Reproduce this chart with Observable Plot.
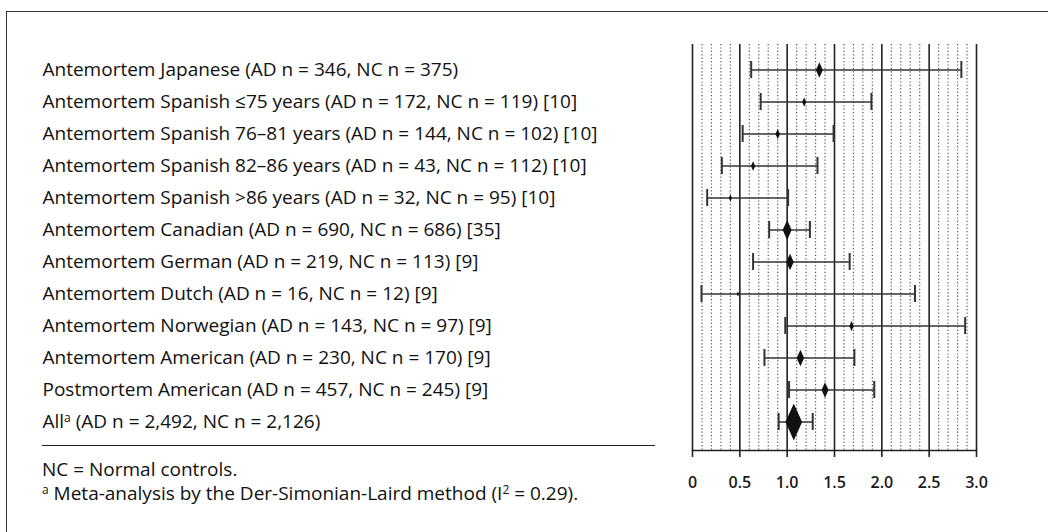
<!DOCTYPE html>
<html>
<head>
<meta charset="utf-8">
<script src="https://cdn.jsdelivr.net/npm/d3@7"></script>
<script src="https://cdn.jsdelivr.net/npm/@observablehq/plot@0.6"></script>
<style>
html, body { margin: 0; padding: 0; background: #fff; overflow: hidden; }
#wrap { position: relative; width: 1048px; height: 532px; font-family: "Open Sans", sans-serif; color: #111; }
#frame { position: absolute; left: 6px; top: 11px; width: 1060px; height: 540px; border: 1.5px solid #333; box-sizing: border-box; }
#chart { position: absolute; left: 0; top: 0; }
#rule { position: absolute; left: 42px; top: 445px; width: 613px; height: 0; border-top: 1.5px solid #222; }
.note { position: absolute; left: 42px; font-size: 19px; line-height: 21px; height: 21px; white-space: nowrap; }
.note sup { font-size: 12px; vertical-align: 6px; line-height: 0; }
</style>
</head>
<body>
<div id="wrap">
  <div id="frame"></div>
  <div id="chart"></div>
  <div id="rule"></div>
  <div class="note" style="top:459px">NC = Normal controls.</div>
  <div class="note" style="top:483px"><sup>a</sup> Meta-analysis by the Der-Simonian-Laird method (I<sup>2</sup> = 0.29).</div>
</div>
<script>
const studies = [
  "Antemortem Japanese (AD n = 346, NC n = 375)",
  "Antemortem Spanish ≤75 years (AD n = 172, NC n = 119) [10]",
  "Antemortem Spanish 76–81 years (AD n = 144, NC n = 102) [10]",
  "Antemortem Spanish 82–86 years (AD n = 43, NC n = 112) [10]",
  "Antemortem Spanish >86 years (AD n = 32, NC n = 95) [10]",
  "Antemortem Canadian (AD n = 690, NC n = 686) [35]",
  "Antemortem German (AD n = 219, NC n = 113) [9]",
  "Antemortem Dutch (AD n = 16, NC n = 12) [9]",
  "Antemortem Norwegian (AD n = 143, NC n = 97) [9]",
  "Antemortem American (AD n = 230, NC n = 170) [9]",
  "Postmortem American (AD n = 457, NC n = 245) [9]",
  "Allᵃ (AD n = 2,492, NC n = 2,126)"
];
const estimate = [1.34, 1.18, 0.90, 0.64, 0.40, 1.00, 1.03, 0.48, 1.68, 1.14, 1.40, 1.07];
const lower    = [0.62, 0.72, 0.53, 0.31, 0.155, 0.81, 0.64, 0.095, 0.98, 0.76, 1.02, 0.91];
const upper    = [2.84, 1.89, 1.49, 1.32, 1.01, 1.24, 1.66, 2.35, 2.88, 1.71, 1.92, 1.27];
const weights  = [42, 25, 27, 26, 19, 54, 45, 14, 27, 45, 42, 100];

const majorTicks = [0, 0.5, 1.0, 1.5, 2.0, 2.5, 3.0];
const tickLabels = ["0", "0.5", "1.0", "1.5", "2.0", "2.5", "3.0"];
const minorTicks = [0.1, 0.2, 0.3, 0.4, 0.6, 0.7, 0.8, 0.9, 1.1, 1.2, 1.3, 1.4, 1.6, 1.7, 1.8, 1.9,
                    2.1, 2.2, 2.3, 2.4, 2.6, 2.7, 2.8, 2.9];

const data = studies.map((s, i) => ({study: s, est: estimate[i], lower: lower[i], upper: upper[i], w: weights[i]}));

const tallDiamond = {
  draw(ctx, size) {
    const r = Math.sqrt(size / Math.PI);
    const w = r * 0.45;
    ctx.moveTo(0, -r); ctx.lineTo(w, 0); ctx.lineTo(0, r); ctx.lineTo(-w, 0); ctx.closePath();
  }
};

const chart = Plot.plot({
  width: 1048, height: 532,
  marginLeft: 692, marginRight: 72, marginTop: 44, marginBottom: 82,
  style: {fontFamily: "'Open Sans', sans-serif", fontSize: "19px", color: "#111", background: "transparent", overflow: "visible"},
  x: {domain: [0, 3]},
  y: {domain: studies, type: "band", range: [60, 430], paddingInner: 0.47, paddingOuter: 0, axis: null},
  r: {type: "linear", domain: [0, 100], range: [0, 18.5]},
  marks: [
    Plot.ruleX(minorTicks, {stroke: "#555", strokeWidth: 1.2, strokeDasharray: "1.2,2.2"}),
    Plot.ruleX(majorTicks, {stroke: "#222", strokeWidth: 1.6}),
    Plot.frame({anchor: "bottom", stroke: "#222", strokeWidth: 1.6}),
    Plot.axisX(majorTicks, {tickSize: 7, tickPadding: 19, stroke: "#222", strokeWidth: 1.6,
      tickFormat: d => tickLabels[majorTicks.indexOf(d)], fontSize: 16, fontWeight: 600, fill: "#1a1a1a", label: null}),
    Plot.ruleY(data, {y: "study", x1: "lower", x2: "upper", stroke: "#333", strokeWidth: 1.6}),
    Plot.tickX(data, {y: "study", x: "lower", stroke: "#333", strokeWidth: 2}),
    Plot.tickX(data, {y: "study", x: "upper", stroke: "#333", strokeWidth: 2}),
    Plot.dot(data, {x: "est", y: "study", r: "w", symbol: tallDiamond, fill: "#111", stroke: "none"}),
    Plot.text(data, {y: "study", text: "study", frameAnchor: "left", textAnchor: "start", dx: -650, fontSize: 19, fill: "#111"})
  ]
});
document.getElementById("chart").appendChild(chart);

// render the superscript "a" in the pooled row label
chart.querySelectorAll("text").forEach(t => {
  if (t.textContent.includes("ᵃ")) {
    const [before, after] = t.textContent.split("ᵃ");
    t.textContent = "";
    const ns = "http://www.w3.org/2000/svg";
    const a = document.createElementNS(ns, "tspan"); a.textContent = before; t.appendChild(a);
    const s = document.createElementNS(ns, "tspan"); s.textContent = "a"; s.setAttribute("font-size", "12"); s.setAttribute("dy", "-6"); t.appendChild(s);
    const b = document.createElementNS(ns, "tspan"); b.textContent = after; b.setAttribute("dy", "6"); t.appendChild(b);
  }
});
</script>
</body>
</html>
